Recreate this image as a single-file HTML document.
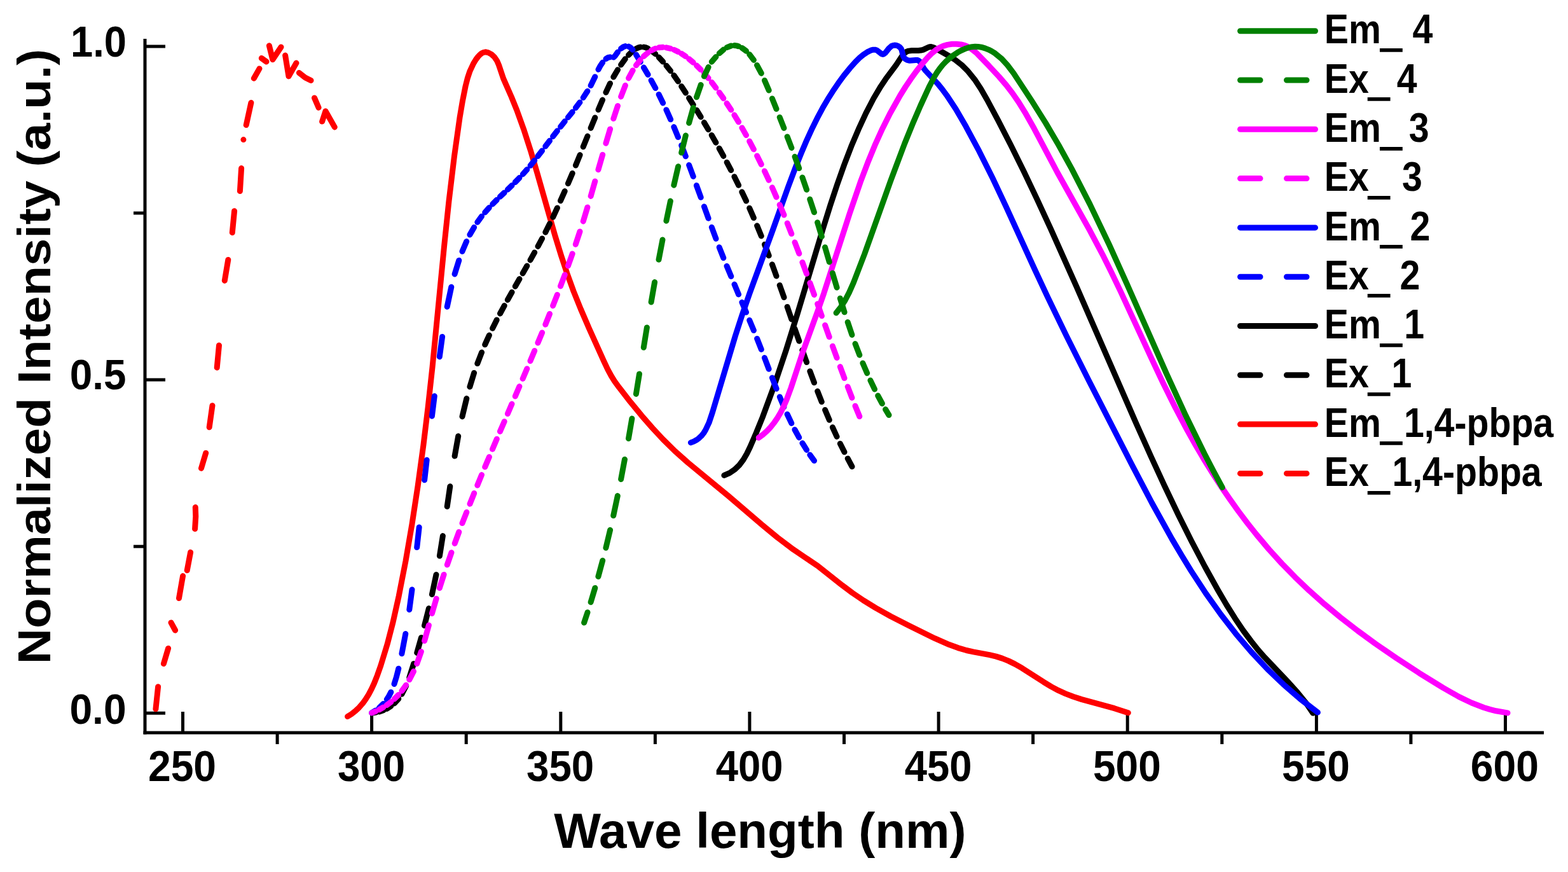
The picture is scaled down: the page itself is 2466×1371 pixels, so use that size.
<!DOCTYPE html>
<html><head><meta charset="utf-8"><title>Normalized Intensity vs Wave length</title>
<style>html,body{margin:0;padding:0;background:#fff;overflow:hidden}svg{display:block}</style></head>
<body><svg width="2466" height="1371" viewBox="0 0 2466 1371">
<rect x="0" y="0" width="2466" height="1371" fill="#fff"/>
<g stroke="#000" stroke-width="5" fill="none"><line x1="228.0" y1="61" x2="228.0" y2="1154.5" /><line x1="225.5" y1="1152.0" x2="2428" y2="1152.0" /><line x1="228.0" y1="1121.2" x2="260" y2="1121.2" /><line x1="228.0" y1="597.1" x2="260" y2="597.1" /><line x1="228.0" y1="73.0" x2="260" y2="73.0" /><line x1="210" y1="859.2" x2="228.0" y2="859.2" /><line x1="210" y1="335.0" x2="228.0" y2="335.0" /><line x1="287.5" y1="1119" x2="287.5" y2="1152.0" /><line x1="584.6" y1="1119" x2="584.6" y2="1152.0" /><line x1="881.8" y1="1119" x2="881.8" y2="1152.0" /><line x1="1178.9" y1="1119" x2="1178.9" y2="1152.0" /><line x1="1476.1" y1="1119" x2="1476.1" y2="1152.0" /><line x1="1773.2" y1="1119" x2="1773.2" y2="1152.0" /><line x1="2070.4" y1="1119" x2="2070.4" y2="1152.0" /><line x1="2367.5" y1="1119" x2="2367.5" y2="1152.0" /><line x1="436.1" y1="1152.0" x2="436.1" y2="1170" /><line x1="733.2" y1="1152.0" x2="733.2" y2="1170" /><line x1="1030.4" y1="1152.0" x2="1030.4" y2="1170" /><line x1="1327.5" y1="1152.0" x2="1327.5" y2="1170" /><line x1="1624.6" y1="1152.0" x2="1624.6" y2="1170" /><line x1="1921.8" y1="1152.0" x2="1921.8" y2="1170" /><line x1="2218.9" y1="1152.0" x2="2218.9" y2="1170" /></g>
<g fill="none" stroke-width="9" stroke-linecap="round" stroke-linejoin="round"><path d="M244.9 1114.7L248.6 1079.7M257.4 1043.5L264.6 1019.4M275.6 991.0L269.0 978.9M281.5 940.6L287.6 905.6M294.2 896.8L299.6 868.3M306.6 831.6L307.8 812.0L307.3 797.6M316.5 736.3L323.7 712.2M329.2 671.7L334.0 637.7M341.2 578.0L344.5 543.0M353.3 441.2L358.8 408.4M365.3 365.7L368.6 331.8M377.4 300.6L379.6 264.5M382.9 219.6l0 0M387.2 196.6L394.9 161.5M399.3 123.2L408.0 107.9M411.3 91.5L419.0 97.0M423.4 71.8L428.8 93.7L442.0 73.9M448.6 87.1L454.0 119.9L466.0 99.1M470.4 114.5L480.0 122.0L489.0 126.5M494.5 153.9L501.1 169.2M506.6 191.1L512.0 174.7L526.3 199.9" stroke="#ff0000"/><path d="M546.6 1126.5L552.7 1122.7L559.0 1117.8L564.7 1112.4L570.5 1105.8L575.1 1099.4L579.8 1091.9L584.4 1083.1L588.6 1074.0L593.4 1061.8L598.8 1046.5L609.1 1012.8L618.1 978.0L627.2 937.2L637.9 882.5L647.9 824.5L657.1 764.3L665.9 699.8L673.0 641.2L680.1 576.5L698.8 384.6L706.0 316.0L714.5 245.5L723.0 185.1L727.5 158.6L732.1 135.5L735.5 122.2L739.0 111.8L744.6 99.9L748.5 93.5L751.7 89.2L754.5 86.2L757.5 83.8L760.7 82.3L763.3 81.8L767.7 82.6L772.9 85.4L777.6 89.7L781.7 95.7L784.5 102.3L791.6 123.4L804.3 152.2L812.8 173.2L823.6 203.2L834.4 236.6L844.9 272.2L873.4 372.2L882.8 402.6L891.9 430.0L902.1 458.1L913.3 485.9L926.4 516.2L949.8 568.1L955.7 580.6L961.3 591.0L966.5 599.3L973.4 608.8L991.6 632.2L1009.3 653.7L1026.4 673.2L1042.7 690.7L1061.9 709.6L1081.9 727.4L1144.9 779.3L1198.8 825.4L1222.6 845.0L1247.9 864.1L1286.0 889.8L1324.5 920.2L1340.5 932.1L1357.8 943.9L1377.3 955.9L1400.8 969.0L1429.2 983.6L1470.2 1003.7L1492.8 1013.6L1506.6 1018.6L1519.9 1022.5L1530.6 1024.9L1556.1 1029.6L1566.7 1032.1L1576.1 1035.1L1586.1 1039.1L1595.8 1043.9L1606.9 1050.2L1641.4 1072.3L1653.4 1079.6L1664.8 1085.7L1675.7 1090.6L1687.8 1095.3L1701.2 1099.6L1752.6 1113.7L1774.3 1120.7" stroke="#ff0000"/><path d="M584.9 1121.0L591.2 1120.1M596.4 1118.9L603.0 1116.7M608.2 1114.4L614.8 1110.3M620.1 1105.9L626.8 1098.6M632.0 1091.2L638.7 1078.2M643.8 1065.1L650.6 1043.6M655.7 1026.4L662.5 1002.4M667.5 983.6L674.4 956.5M679.4 934.6L686.0 903.5M691.4 874.0L696.4 842.6M703.2 796.3L707.8 764.8M715.1 717.1L720.7 685.8M727.0 654.9L733.8 626.6M738.9 608.1L745.6 586.3M750.8 571.6L757.6 554.0M762.7 541.8L769.4 527.1M774.6 516.3L781.2 503.1M786.5 493.0L793.2 480.6M798.3 471.5L805.1 459.4M810.3 450.3L817.0 438.6M822.1 429.8L828.8 418.0M834.0 408.9L840.7 396.9M846.0 387.4L852.6 375.0M857.8 365.2L864.5 351.8M869.7 341.3L876.4 326.9M881.5 315.7L888.2 300.6M893.4 288.5L900.2 272.5M905.4 260.0L912.1 243.6M917.2 230.8L924.0 214.1M929.1 201.3L935.8 185.0M941.0 172.5L947.6 157.1M952.9 145.3L959.5 131.2M964.8 121.1L971.5 109.7M976.6 101.9L983.3 92.7M988.5 86.5L995.2 80.1M1000.4 76.5L1004.0 74.9L1007.1 74.0M1012.5 74.0L1015.4 74.7L1019.0 76.2M1024.3 79.5L1030.8 84.9M1036.2 90.1L1042.7 97.1M1048.0 103.3L1054.6 111.5M1059.8 118.4L1066.5 128.0M1071.7 135.7L1078.4 146.0M1083.6 154.1L1090.3 164.8M1095.6 173.2L1102.2 183.9M1107.4 192.6L1114.0 203.7M1119.2 212.5L1125.9 224.2M1131.1 233.3L1137.8 245.4M1143.1 255.2L1149.7 267.6M1154.9 277.7L1161.6 291.2M1166.8 301.7L1173.6 316.0M1178.7 327.2L1185.4 342.6M1190.6 354.8L1197.3 371.1M1202.5 384.3L1209.2 401.9M1214.4 415.7L1221.0 434.0M1226.2 448.4L1233.0 467.6M1238.1 482.4L1244.8 501.9M1249.9 516.7L1256.8 536.2M1261.8 550.6L1268.6 569.6M1273.8 583.7L1280.5 601.6M1285.7 615.1L1292.3 631.8M1297.6 644.5L1304.3 660.3M1309.4 671.8L1316.1 686.5M1321.3 697.4L1328.0 710.8M1333.2 720.9L1340.0 733.6" stroke="#000000"/><path d="M1138.9 747.4L1147.5 743.6L1155.7 738.0L1162.7 731.2L1169.1 722.7L1174.6 713.3L1179.8 702.5L1189.4 680.3L1199.2 656.1L1217.2 607.4L1236.2 550.7L1253.5 495.3L1294.1 360.3L1305.7 323.2L1316.4 290.9L1327.7 259.0L1338.8 230.1L1350.1 203.4L1361.9 177.9L1373.9 154.7L1385.1 135.9L1392.8 124.4L1409.4 102.1L1418.6 88.1L1421.8 84.2L1425.6 81.3L1429.1 80.1L1434.0 79.5L1444.4 79.5L1448.4 79.1L1452.2 78.1L1459.2 74.7L1461.8 73.8L1464.4 73.6L1467.9 74.5L1478.5 80.0L1494.5 89.2L1502.1 94.0L1512.9 102.5L1522.5 112.2L1532.9 125.1L1542.6 139.8L1552.5 157.0L1569.4 188.7L1589.5 227.7L1609.8 268.8L1630.8 312.9L1652.5 359.9L1692.8 450.1L1787.0 666.0L1810.3 718.0L1831.2 763.3L1853.1 809.2L1874.1 851.2L1895.0 891.0L1915.4 927.7L1929.0 951.0L1942.3 972.2L1955.1 991.2L1967.6 1008.0L1978.1 1021.2L1988.6 1033.2L2027.0 1073.7L2041.0 1089.3L2054.2 1105.5L2064.9 1121.2" stroke="#000000"/><path d="M584.5 1120.8L591.0 1116.9M596.3 1113.0L602.9 1106.5M608.3 1099.6L611.8 1094.1L614.8 1088.2M620.0 1075.4L623.4 1064.5L626.8 1051.2M631.9 1027.7L637.8 996.5M643.8 958.5L648.0 927.0M655.7 860.6L659.2 829.0M667.6 754.7L671.2 723.2M679.4 654.3L683.3 622.8M691.3 560.9L695.6 529.4M703.2 482.3L709.8 451.2M715.1 430.9L721.8 409.4M727.0 395.3L733.7 379.6M738.9 369.1L745.6 357.4M750.8 349.3L757.5 340.2M762.7 333.9L769.3 326.5M774.7 320.9L781.3 314.3M786.4 309.3L793.2 302.9M798.4 297.9L805.1 291.5M810.2 286.5L816.9 279.6M822.3 273.9L828.8 266.5M834.1 260.3L840.7 252.2M845.9 245.6L852.5 237.0M857.8 230.1L864.5 221.3M869.6 214.6L876.4 205.8M881.6 199.2L888.3 190.8M893.4 184.5L900.2 176.1M905.4 169.5L911.9 160.9M917.2 153.6L923.9 143.3M929.1 134.5L935.8 120.8M941.0 109.3L944.3 103.2L947.7 98.3M953.0 92.5L956.2 90.4L959.4 89.8M964.8 90.1L967.1 88.3L971.5 81.9M976.6 76.4L980.3 73.8L983.4 72.6M988.7 73.1L991.7 74.9L995.1 78.3M1000.4 85.9L1007.2 97.3M1012.4 106.1L1019.1 117.4M1024.1 126.3L1030.9 138.6M1036.1 148.5L1042.7 161.9M1047.9 172.7L1054.7 187.8M1059.8 199.6L1066.5 215.7M1071.7 228.5L1078.4 245.8M1083.6 259.5L1090.3 277.5M1095.4 291.6L1102.2 310.3M1107.4 324.7L1114.1 343.3M1119.3 357.3L1126.0 375.3M1131.2 388.8L1137.8 405.5M1143.0 418.3L1149.8 434.6M1155.0 447.1L1161.6 462.9M1166.9 475.3L1173.5 491.0M1178.7 503.5L1185.4 519.6M1190.6 532.4L1197.3 549.4M1202.4 562.5L1209.1 580.2M1214.4 593.9L1221.1 611.2M1226.3 624.0L1232.9 639.8M1238.1 651.3L1244.8 665.4M1249.9 675.5L1256.7 687.9M1261.9 696.7L1268.6 707.4M1273.8 715.1L1280.5 724.3" stroke="#0000ff"/><path d="M1086.4 695.9L1091.1 694.1L1095.3 691.8L1099.1 689.1L1103.1 685.3L1106.6 681.0L1109.6 676.2L1115.0 664.7L1120.5 648.3L1156.5 527.9L1166.9 495.8L1179.0 461.0L1215.1 362.4L1239.7 293.6L1251.3 262.7L1260.2 240.5L1268.8 220.3L1277.5 201.4L1286.4 183.6L1293.9 169.6L1301.9 155.9L1309.9 143.3L1318.3 130.9L1327.1 118.9L1336.5 107.3L1345.2 97.5L1352.3 90.4L1357.8 85.9L1363.9 81.9L1369.5 79.2L1373.3 78.2L1376.2 78.2L1379.0 79.0L1386.6 84.8L1388.1 85.4L1389.6 85.2L1392.3 83.2L1397.9 76.1L1401.9 72.5L1404.7 71.4L1406.7 71.1L1408.8 71.2L1411.8 72.0L1415.3 74.3L1417.2 76.6L1418.3 79.4L1420.5 88.4L1421.9 90.9L1424.1 92.9L1426.7 94.4L1430.8 95.3L1440.3 94.4L1442.9 94.5L1444.5 95.1L1446.5 96.8L1448.8 100.0L1453.0 107.6L1455.5 111.0L1474.4 131.2L1481.9 140.3L1488.9 149.8L1503.1 171.3L1519.1 198.8L1539.8 237.4L1561.2 280.3L1582.1 324.6L1627.0 422.9L1647.7 467.1L1677.1 527.9L1712.2 598.0L1779.4 729.3L1811.5 790.5L1843.1 847.4L1858.4 873.3L1873.0 897.1L1896.4 932.9L1920.0 966.0L1943.7 996.6L1968.1 1025.2L1993.3 1052.0L2018.5 1076.1L2045.1 1099.1L2072.4 1120.1" stroke="#0000ff"/><path d="M584.6 1120.9L590.9 1118.3M596.3 1115.7L602.9 1112.0M608.2 1108.6L614.9 1103.6M620.1 1099.1L626.7 1092.5M631.9 1086.3L638.6 1077.1M643.8 1068.6L650.5 1055.6M655.7 1043.4L662.4 1024.5M667.6 1007.6L674.4 983.0M679.4 964.5L686.2 941.2M691.3 924.5L698.1 903.4M703.3 888.0L710.0 868.8M715.2 854.4L721.8 836.4M727.0 822.6L733.8 805.3M739.0 792.2L745.7 775.5M750.8 763.0L757.5 746.6M762.7 734.2L769.4 718.4M774.5 706.2L781.3 690.2M786.4 678.4L793.2 662.7M798.4 650.6L805.0 635.1M810.3 623.0L816.9 607.6M822.1 595.4L828.8 579.7M834.0 567.6L840.7 551.5M845.9 539.1L852.6 523.0M857.8 510.2L864.5 493.5M869.6 480.7L876.4 463.4M881.5 449.9L888.3 432.0M893.4 417.9L900.2 398.9M905.3 384.2L912.0 364.0M917.2 348.0L923.9 325.9M929.1 308.4L935.8 285.0M940.9 266.8L947.7 243.2M952.9 225.3L959.6 202.9M964.8 186.6L971.5 166.4M976.6 152.0L983.4 134.3M988.6 122.9L995.2 110.7M1000.4 102.7L1007.1 94.2M1012.4 88.5L1019.0 82.9M1024.3 79.4L1030.8 76.3M1036.3 74.8L1042.6 74.3M1047.9 74.8L1054.6 76.4M1060.0 78.3L1066.5 81.4M1071.7 84.3L1078.5 88.8M1083.7 92.8L1090.2 98.2M1095.5 103.0L1102.1 109.5M1107.4 115.3L1114.1 123.0M1119.4 129.5L1125.9 138.1M1131.2 145.4L1137.8 154.7M1143.0 162.4L1149.8 172.7M1154.9 180.8L1161.6 191.8M1166.9 200.9L1173.5 212.6M1178.7 222.1L1185.4 234.8M1190.6 245.0L1197.3 258.4M1202.4 268.9L1209.2 283.3M1214.4 294.8L1221.0 309.9M1226.2 322.0L1233.0 338.1M1238.2 350.9L1244.8 367.6M1250.0 381.0L1256.8 398.7M1261.9 412.4L1268.6 430.4M1273.8 444.8L1280.5 463.4M1285.7 477.8L1292.4 496.8M1297.6 511.2L1304.2 529.8M1309.4 544.2L1316.1 562.5M1321.3 576.6L1328.0 594.6M1333.2 608.0L1339.9 625.4M1345.0 638.2L1351.8 654.8" stroke="#ff00ff"/><path d="M1193.3 688.2L1199.8 683.3L1206.5 677.3L1212.6 670.8L1218.0 663.9L1223.0 656.6L1227.9 648.2L1232.7 638.5L1237.1 628.4L1244.1 609.5L1262.1 554.8L1286.2 488.5L1295.7 461.2L1336.0 336.4L1353.2 286.2L1364.5 256.3L1375.8 228.7L1387.7 202.4L1399.7 178.5L1415.7 150.0L1424.1 136.5L1432.4 124.2L1441.1 112.1L1450.4 100.3L1458.9 90.4L1465.9 83.4L1472.0 78.4L1477.8 74.8L1483.2 72.4L1490.0 70.4L1497.2 69.3L1504.4 69.2L1511.4 69.9L1518.0 71.7L1522.4 73.6L1526.6 76.0L1535.1 82.7L1555.5 103.7L1571.1 120.5L1582.7 134.0L1592.3 146.5L1601.9 160.4L1611.8 176.3L1626.5 202.3L1662.6 270.5L1714.2 362.8L1733.8 399.8L1747.6 427.4L1762.2 457.9L1810.3 562.1L1829.0 601.8L1848.6 641.2L1867.3 676.6L1880.0 699.3L1893.2 721.8L1906.4 743.1L1920.0 764.1L1933.5 783.9L1947.4 803.4L1961.8 822.5L1976.1 840.5L1995.9 864.0L2016.0 886.1L2036.8 907.4L2059.1 928.7L2082.9 949.8L2108.2 970.7L2135.0 991.5L2163.2 1012.1L2196.2 1034.8L2232.2 1058.3L2269.6 1081.4L2294.7 1095.6L2314.3 1105.0L2333.7 1112.5L2343.2 1115.4L2352.9 1117.8L2371.0 1120.9" stroke="#ff00ff"/><path d="M918.6 979.0L924.0 962.8M929.1 946.8L935.8 924.4M940.9 906.5L947.7 881.3M952.9 861.3L959.6 833.3M964.7 810.7L971.3 779.6M976.6 753.5L982.5 722.2M988.5 689.5L993.9 658.1M1000.4 619.4L1005.5 588.0M1012.3 546.3L1017.4 514.9M1024.1 475.0L1029.6 443.6M1036.0 408.2L1042.0 377.0M1047.9 347.3L1054.4 316.1M1059.8 291.2L1066.6 261.7M1071.7 240.1L1078.4 213.0M1083.6 193.3L1090.3 169.3M1095.5 152.7L1102.2 133.4M1107.4 120.0L1114.1 105.6M1119.3 97.2L1125.9 89.4M1131.2 83.8L1137.8 78.1M1143.1 74.7L1149.8 72.0M1155.1 71.5L1158.4 71.9L1161.6 72.8M1167.0 75.4L1173.5 80.2M1178.8 85.6L1185.4 94.4M1190.5 102.5L1197.3 115.2M1202.5 126.4L1209.2 142.1M1214.4 154.9L1221.0 171.3M1226.2 184.4L1232.9 201.4M1238.1 214.9L1244.9 232.5M1250.0 246.3L1256.7 264.6M1261.9 279.0L1268.6 298.3M1273.7 313.3L1280.5 333.8M1285.6 349.8L1292.4 371.9M1297.5 388.8L1304.3 411.9M1309.4 429.4L1316.1 452.1M1321.3 469.1L1328.1 490.8M1333.2 506.5L1339.9 526.4M1345.0 540.5L1351.8 558.2M1356.9 571.0L1363.7 586.7M1368.9 598.1L1375.5 611.9M1380.7 622.1L1387.4 634.5M1392.6 643.6L1398.0 652.6" stroke="#008000"/><path d="M1315.1 492.0L1322.6 482.4L1329.2 472.0L1335.5 459.9L1342.3 444.5L1359.6 399.5L1400.8 283.9L1422.6 226.0L1435.4 194.5L1447.7 166.0L1461.2 136.6L1469.6 120.5L1473.8 113.7L1478.3 107.3L1482.6 102.0L1488.0 96.4L1493.1 91.8L1499.4 86.9L1506.1 82.4L1512.4 79.0L1518.0 76.6L1523.7 74.7L1528.6 73.7L1533.5 73.2L1538.4 73.4L1543.4 74.2L1549.2 75.8L1554.8 78.1L1560.0 80.8L1565.0 83.9L1574.8 91.9L1584.3 102.2L1594.1 115.1L1623.0 159.1L1644.5 193.4L1665.0 228.3L1685.6 265.6L1714.2 321.4L1744.7 385.3L1772.7 447.3L1834.4 587.1L1864.8 653.3L1894.2 713.3L1908.5 740.9L1922.3 766.4" stroke="#008000"/></g>
<g style="font-family:'Liberation Sans',Arial,sans-serif;font-weight:bold" fill="#000"><text transform="translate(111.02,89.22) scale(0.9344,1)" font-size="67.66">1.0</text><text transform="translate(109.85,612.43) scale(0.9525,1)" font-size="66.95">0.5</text><text transform="translate(109.43,1137.83) scale(0.9565,1)" font-size="67.09">0.0</text><text transform="translate(232.95,1228.32) scale(0.9469,1)" font-size="67.80">250</text><text transform="translate(530.88,1228.26) scale(0.9411,1)" font-size="67.70">300</text><text transform="translate(828.02,1228.26) scale(0.9411,1)" font-size="67.70">350</text><text transform="translate(1125.68,1228.32) scale(0.9351,1)" font-size="67.80">400</text><text transform="translate(1422.82,1228.32) scale(0.9351,1)" font-size="67.80">450</text><text transform="translate(1718.93,1228.32) scale(0.9445,1)" font-size="67.80">500</text><text transform="translate(2016.07,1228.32) scale(0.9445,1)" font-size="67.80">550</text><text transform="translate(2312.82,1228.32) scale(0.9481,1)" font-size="67.80">600</text><text transform="translate(871.22,1332.92) scale(1.0115,1)" font-size="77.27">Wave length (nm)</text><text transform="translate(79.30,1044.21) rotate(-90) scale(1.0634,1)" font-size="73.10">Normalized Intensity (a.u.)</text></g>
<g stroke-width="9" stroke-linecap="round" fill="none"><path d="M1950.5 48.7H2068.5" stroke="#008000"/><path d="M1950.5 126.0H1982M2023.5 126.0H2055" stroke="#008000"/><path d="M1950.5 203.3H2068.5" stroke="#ff00ff"/><path d="M1950.5 280.6H1982M2023.5 280.6H2055" stroke="#ff00ff"/><path d="M1950.5 357.9H2068.5" stroke="#0000ff"/><path d="M1950.5 435.2H1982M2023.5 435.2H2055" stroke="#0000ff"/><path d="M1950.5 512.5H2068.5" stroke="#000000"/><path d="M1950.5 589.8H1982M2023.5 589.8H2055" stroke="#000000"/><path d="M1950.5 667.1H2068.5" stroke="#ff0000"/><path d="M1950.5 744.4H1982M2023.5 744.4H2055" stroke="#ff0000"/></g>
<g style="font-family:'Liberation Sans',Arial,sans-serif;font-weight:bold" fill="#000"><text transform="translate(2082.86,68.30) scale(0.8930,1)" font-size="64.10">Em<tspan dy="3.6" stroke="#000" stroke-width="3.3">_</tspan></text><text transform="translate(2221.54,68.30) scale(0.8930,1)" font-size="64.10">4</text><text transform="translate(2082.86,145.60) scale(0.8930,1)" font-size="64.10">Ex<tspan dy="3.6" stroke="#000" stroke-width="3.3">_</tspan></text><text transform="translate(2196.64,145.60) scale(0.8930,1)" font-size="64.10">4</text><text transform="translate(2082.86,222.90) scale(0.8930,1)" font-size="64.10">Em<tspan dy="3.6" stroke="#000" stroke-width="3.3">_</tspan></text><text transform="translate(2215.68,222.90) scale(0.8930,1)" font-size="64.10">3</text><text transform="translate(2082.86,300.20) scale(0.8930,1)" font-size="64.10">Ex<tspan dy="3.6" stroke="#000" stroke-width="3.3">_</tspan></text><text transform="translate(2204.98,300.20) scale(0.8930,1)" font-size="64.10">3</text><text transform="translate(2082.86,377.50) scale(0.8930,1)" font-size="64.10">Em<tspan dy="3.6" stroke="#000" stroke-width="3.3">_</tspan></text><text transform="translate(2217.40,377.50) scale(0.8930,1)" font-size="64.10">2</text><text transform="translate(2082.86,454.80) scale(0.8930,1)" font-size="64.10">Ex<tspan dy="3.6" stroke="#000" stroke-width="3.3">_</tspan></text><text transform="translate(2201.50,454.80) scale(0.8930,1)" font-size="64.10">2</text><text transform="translate(2082.86,532.10) scale(0.8930,1)" font-size="64.10">Em<tspan dy="3.6" stroke="#000" stroke-width="3.3">_</tspan></text><text transform="translate(2208.19,532.10) scale(0.8930,1)" font-size="64.10">1</text><text transform="translate(2082.86,609.40) scale(0.8930,1)" font-size="64.10">Ex<tspan dy="3.6" stroke="#000" stroke-width="3.3">_</tspan></text><text transform="translate(2188.39,609.40) scale(0.8930,1)" font-size="64.10">1</text><text transform="translate(2082.86,686.70) scale(0.8930,1)" font-size="64.10">Em<tspan dy="3.6" stroke="#000" stroke-width="3.3">_</tspan></text><text transform="translate(2207.89,686.70) scale(0.8930,1)" font-size="64.10">1,4-pbpa</text><text transform="translate(2082.86,764.00) scale(0.8930,1)" font-size="64.10">Ex<tspan dy="3.6" stroke="#000" stroke-width="3.3">_</tspan></text><text transform="translate(2189.39,764.00) scale(0.8930,1)" font-size="64.10">1,4-pbpa</text></g>
</svg></body></html>
